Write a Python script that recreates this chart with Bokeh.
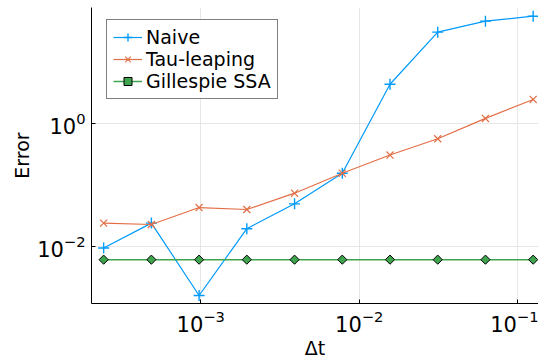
from bokeh.plotting import figure
from bokeh.models import Range1d, FixedTicker, Legend, LegendItem
from bokeh.embed import file_html
from bokeh.resources import INLINE

# ---- data ----
dt = [0.000244140625, 0.00048828125, 0.0009765625, 0.001953125, 0.00390625,
      0.0078125, 0.015625, 0.03125, 0.0625, 0.125]
naive = [0.0094, 0.0239, 0.00159, 0.0194, 0.0492, 0.155, 4.33, 30.5, 46.0, 55.4]
tau = [0.0239, 0.0227, 0.0428, 0.0398, 0.0733, 0.155, 0.306, 0.563, 1.205, 2.45]
ssa = [0.00608, 0.00608, 0.00608, 0.00608, 0.00608, 0.00608, 0.00608, 0.00608, 0.00608, 0.00608]
x_ticks = [1e-3, 1e-2, 1e-1]
y_ticks = [1e-2, 1e0]
labels = ["Naive", "Tau-leaping", "Gillespie SSA"]
colors = ["#009AFA", "#E36F47", "#3EA44E"]

p = figure(width=538, height=361, x_axis_type="log", y_axis_type="log",
           x_range=Range1d(10 ** -3.689, 10 ** -0.8695),
           y_range=Range1d(10 ** -2.929, 10 ** 1.885),
           output_backend="svg", toolbar_location=None,
           min_border_left=91, min_border_right=0, min_border_top=7, min_border_bottom=57)
p.outline_line_color = None
p.background_fill_color = "white"
p.border_fill_color = "white"

p.xaxis.ticker = FixedTicker(ticks=x_ticks)
p.yaxis.ticker = FixedTicker(ticks=y_ticks)
for ax in (p.xaxis[0], p.yaxis[0]):
    ax.axis_line_color = "black"
    ax.axis_line_width = 1
    ax.major_tick_in = 4
    ax.major_tick_out = 0
    ax.major_tick_line_color = "black"
    ax.minor_tick_line_color = None
    ax.major_label_text_font = "DejaVu Sans"
    ax.major_label_text_font_size = "21px"
    ax.major_label_text_color = "black"
    ax.major_label_standoff = 6
    ax.axis_label_text_font = "DejaVu Sans"
    ax.axis_label_text_font_size = "19px"
    ax.axis_label_text_font_style = "normal"
    ax.axis_label_text_color = "black"
p.xaxis.axis_label = "Δt"
p.yaxis.axis_label = "Error"
p.xaxis.axis_label_standoff = 2
p.yaxis.axis_label_standoff = 1

for g in (p.xgrid[0], p.ygrid[0]):
    g.grid_line_color = "#e6e6e6"
    g.grid_line_width = 1

l1 = p.line(dt, naive, line_color=colors[0], line_width=1.2)
s1 = p.scatter(dt, naive, marker="cross", size=11, line_color=colors[0], line_width=1.4)
l2 = p.line(dt, tau, line_color=colors[1], line_width=1.2)
s2 = p.scatter(dt, tau, marker="x", size=10, line_color=colors[1], line_width=1.2)
l3 = p.line(dt, ssa, line_color=colors[2], line_width=1.5)
s3 = p.scatter(dt, ssa, marker="square", angle=0.785398, size=6.5,
               fill_color=colors[2], line_color="black", line_width=1)

legend = Legend(items=[LegendItem(label=labels[0], renderers=[l1, s1]),
                       LegendItem(label=labels[1], renderers=[l2, s2]),
                       LegendItem(label=labels[2], renderers=[l3, s3])],
                location=(15, 204), padding=6, spacing=0, margin=0,
                glyph_width=29, glyph_height=20, label_height=20, label_standoff=4,
                label_text_font="DejaVu Sans", label_text_font_size="19px",
                label_text_color="black",
                border_line_color="black", border_line_width=1,
                background_fill_color="white", background_fill_alpha=1)
p.add_layout(legend)

open("out.html", "w").write(file_html(p, INLINE))
